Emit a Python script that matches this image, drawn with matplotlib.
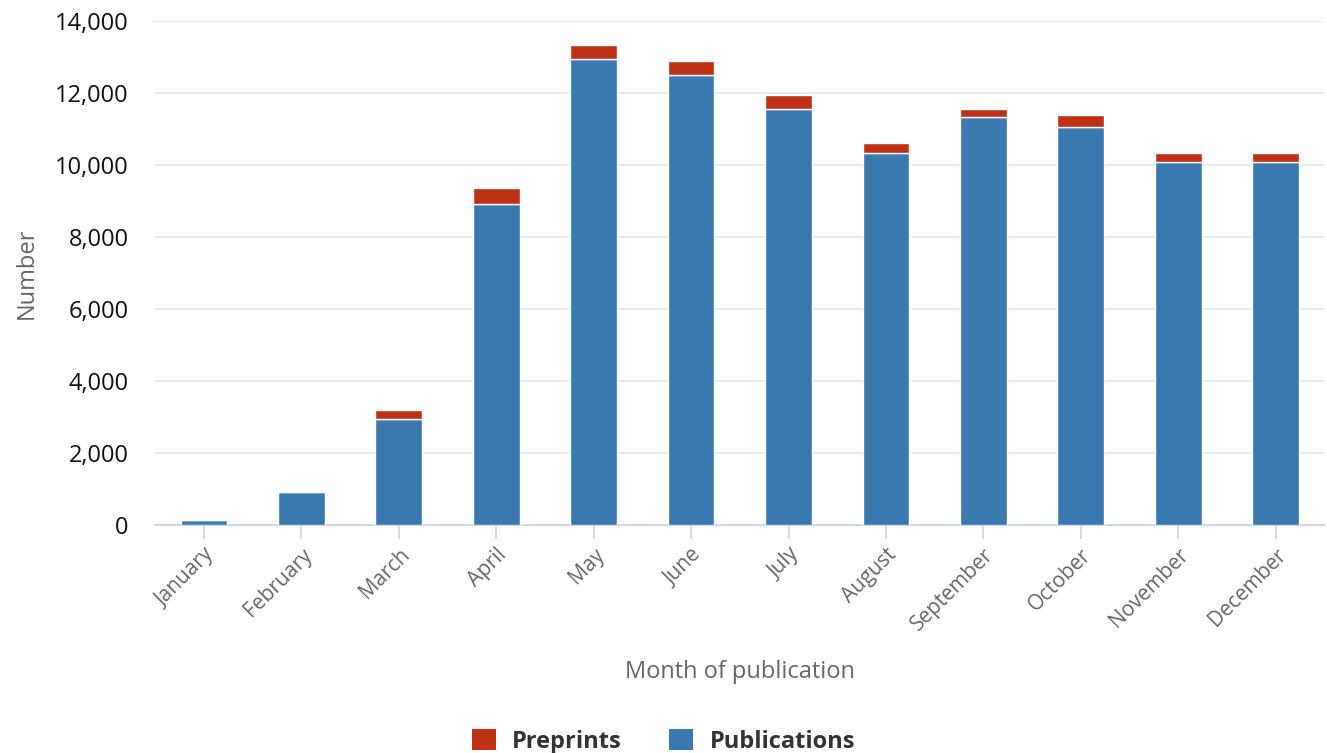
import matplotlib.pyplot as plt
from matplotlib.patches import Patch
from matplotlib.ticker import FuncFormatter

months = ['January', 'February', 'March', 'April', 'May', 'June', 'July',
          'August', 'September', 'October', 'November', 'December']
publications = [130, 900, 2950, 8920, 12950, 12500, 11570, 10340, 11340, 11070, 10070, 10070]
preprints = [0, 0, 230, 440, 390, 390, 370, 280, 230, 330, 270, 270]

pub_color = '#3a78b0'
pre_color = '#bf3115'

plt.rcParams['font.family'] = ['Open Sans', 'DejaVu Sans']

figure, axes = plt.subplots(figsize=(13.27, 7.53), dpi=100)
figure.subplots_adjust(left=0.117, right=0.998, top=0.972, bottom=0.303)

x = range(len(months))
axes.bar(x, publications, width=0.48, color=pub_color, edgecolor='white', linewidth=1, zorder=3)
axes.bar(x, preprints, width=0.48, bottom=publications, color=pre_color,
         edgecolor='white', linewidth=1, zorder=3)

axes.set_xlim(-0.5, len(months) - 0.5)
axes.set_ylim(0, 14000)
axes.set_yticks(range(0, 14001, 2000))
axes.yaxis.set_major_formatter(FuncFormatter(lambda v, p: f'{int(v):,}'))
axes.grid(axis='y', color='#e6e6e6', linewidth=1.2, zorder=0)

for side in ['top', 'right', 'left']:
    axes.spines[side].set_visible(False)
axes.spines['bottom'].set_color('#ccd6eb')
axes.spines['bottom'].set_linewidth(1.5)

axes.tick_params(axis='y', length=0, labelsize=17, labelcolor='#111111', pad=19)
axes.tick_params(axis='x', length=10, width=1.2, color='#ccd6eb', labelsize=15,
                 labelcolor='#666666', pad=4)
axes.set_xticks(list(x))
axes.set_xticklabels(months, rotation=45, ha='right', rotation_mode='anchor')

axes.set_xlabel('Month of publication', fontsize=17, color='#666666', labelpad=18)
axes.set_ylabel('Number', fontsize=17, color='#666666', labelpad=12)

handles = [Patch(facecolor=pre_color, label='Preprints'),
           Patch(facecolor=pub_color, label='Publications')]
figure.legend(handles=handles, loc='lower center', bbox_to_anchor=(0.5, -0.029), ncol=2,
              frameon=False, prop={'weight': 'bold', 'size': 17}, labelcolor='#333333',
              handlelength=1.0, handleheight=1.0, columnspacing=2.0, handletextpad=0.7)

plt.savefig('out.png')
